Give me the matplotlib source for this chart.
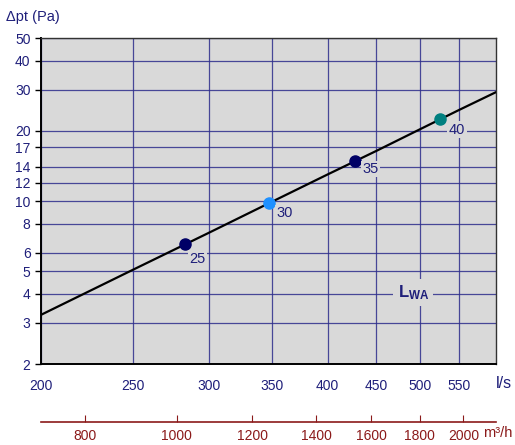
import matplotlib
matplotlib.use("Agg")
from matplotlib import pyplot as plt
from matplotlib.ticker import FixedLocator, NullLocator

plt.rcParams['font.family'] = ['Liberation Sans', 'DejaVu Sans']
plt.rcParams['mathtext.fontset'] = 'custom'
plt.rcParams['mathtext.bf'] = 'Liberation Sans:bold'
plt.rcParams['mathtext.rm'] = 'Liberation Sans'

# fan curve (l/s, Pa)
flow = [200, 250, 300, 350, 400, 450, 500, 550, 600]
dp = [3.25, 5.08, 7.3, 9.95, 13.0, 16.4, 20.3, 24.6, 29.2]

# sound power points
pt_flow = [283, 347, 427, 525]
pt_dp = [6.55, 9.8, 14.85, 22.5]
pt_lwa = ['25', '30', '35', '40']
pt_col = ['#000066', '#1e90ff', '#000066', '#008080']

xticks = [200, 250, 300, 350, 400, 450, 500, 550]
yticks = [2, 3, 4, 5, 6, 8, 10, 12, 14, 17, 20, 30, 40, 50]
m3h_ticks = [800, 1000, 1200, 1400, 1600, 1800, 2000]

navy = '#1f1f7a'
grey = '#d9d9d9'
red = '#8b1a1a'

fig = plt.figure(figsize=(5.15, 4.45), dpi=100)
ax = fig.add_axes([0.0796, 0.182, 0.8835, 0.7326])
ax.set_facecolor(grey)
ax.set_xscale('log'); ax.set_yscale('log')
ax.set_xlim(200, 601); ax.set_ylim(2, 50)

ax.xaxis.set_major_locator(FixedLocator(xticks)); ax.xaxis.set_minor_locator(NullLocator())
ax.yaxis.set_major_locator(FixedLocator(yticks)); ax.yaxis.set_minor_locator(NullLocator())
ax.set_xticklabels([str(v) for v in xticks]); ax.set_yticklabels([str(v) for v in yticks])
ax.tick_params(colors='black', labelcolor=navy, labelsize=10, length=4, width=1)
ax.tick_params(axis='x', length=0, pad=11)
ax.grid(True, color='#2e2e8c', lw=0.9, alpha=0.85)
ax.set_axisbelow(True)
for s in ax.spines.values():
    s.set_color('#333333'); s.set_linewidth(1)
ax.spines['left'].set_color('black'); ax.spines['bottom'].set_color('black')
ax.spines['left'].set_linewidth(1.4); ax.spines['bottom'].set_linewidth(1.4)

ax.plot(flow, dp, color='black', lw=1.6, zorder=3)
offs = [(13, -15), (16, -10), (16, -8), (17, -11)]
for q, p, lab, c, o in zip(pt_flow, pt_dp, pt_lwa, pt_col, offs):
    ax.plot(q, p, 'o', color=c, ms=8, zorder=4)
    ax.annotate(lab, (q, p), xytext=o, textcoords='offset pixels', ha='center', va='center',
                color=navy, fontsize=10.5, zorder=5,
                bbox=dict(facecolor=grey, edgecolor='none', pad=1))

ax.text(492, 4.04, r'$\mathbf{L_{WA}}$', ha='center', va='center', color=navy, fontsize=12,
        bbox=dict(facecolor=grey, edgecolor='none', pad=3))

fig.text(0.012, 0.962, '\u0394pt (Pa)', color=navy, fontsize=10.5, ha='left', va='center')
fig.text(0.978, 0.139, 'l/s', color=navy, fontsize=11.5, ha='center', va='center')

sec = ax.secondary_xaxis(-0.177, functions=(lambda x: x * 3.6, lambda x: x / 3.6))
sec.xaxis.set_major_locator(FixedLocator(m3h_ticks)); sec.xaxis.set_minor_locator(NullLocator())
sec.set_xticklabels([str(v) for v in m3h_ticks])
sec.spines['bottom'].set_color(red); sec.spines['bottom'].set_linewidth(1.2)
sec.tick_params(direction='in', length=5, color=red, labelcolor=red, labelsize=10, pad=5)
fig.text(0.938, 0.027, 'm\u00b3/h', color=red, fontsize=10.5, ha='left', va='center')

fig.savefig('out.png', dpi=100)
